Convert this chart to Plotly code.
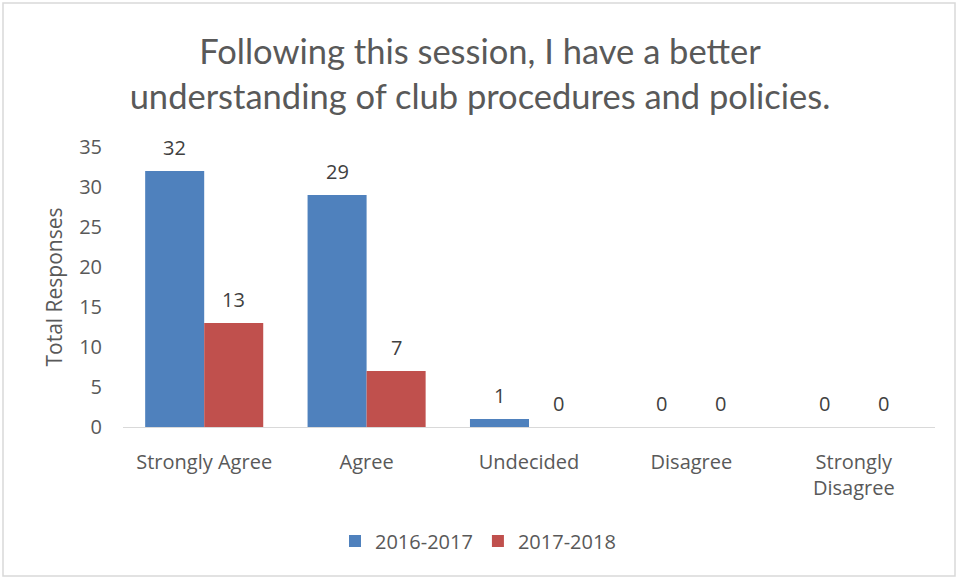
import plotly.graph_objects as go

categories = ["Strongly Agree", "Agree", "Undecided", "Disagree", "Strongly<br>Disagree"]
series_names = ["2016-2017", "2017-2018"]
values_2016 = [32, 29, 1, 0, 0]
values_2017 = [13, 7, 0, 0, 0]
y_ticks = [0, 5, 10, 15, 20, 25, 30, 35]

TFONT = "Lato"
FONT = "Open Sans"
GRAY = "#595959"
BARGAP = 0.273

fig = go.Figure()
series = [(series_names[0], values_2016, "#4F81BD"),
          (series_names[1], values_2017, "#C0504D")]
for name, vals, color in series:
    fig.add_trace(go.Bar(
        x=categories, y=vals, name=name, marker_color=color,
        marker_line_width=0,
    ))

# data labels above each bar
bw = (1 - BARGAP) / 2
annotations = []
for si, (name, vals, color) in enumerate(series):
    off = (si - 0.5) * bw
    for i, v in enumerate(vals):
        annotations.append(dict(
            x=i + off, y=v, xref="x", yref="y", text=str(v), showarrow=False,
            yshift=24, yanchor="middle", xanchor="center",
            font=dict(family=FONT, size=20, color="#404040"),
        ))

W, H = 960, 579
L, R, T, B = 123, 25, 147, 152
pw, ph = W - L - R, H - T - B

def px_x(x):
    return (x - L) / pw

def px_y(y):
    return (H - B - y) / ph

fig.update_layout(
    width=W, height=H,
    margin=dict(l=L, r=R, t=T, b=B),
    paper_bgcolor="white", plot_bgcolor="white",
    barmode="group", bargap=BARGAP, bargroupgap=0,
    title=dict(
        text="Following this session, I have a better<br>understanding of club procedures and policies.",
        x=0.5, xanchor="center", y=1 - 64 / H, yanchor="middle",
        font=dict(family=TFONT, size=34.5, color=GRAY),
    ),
    font=dict(family=FONT, color=GRAY),
    showlegend=True,
    legend=dict(
        orientation="h", x=px_x(478), xanchor="center",
        y=px_y(541), yanchor="middle",
        font=dict(family=FONT, size=20, color=GRAY),
        traceorder="normal",
    ),
    xaxis=dict(
        showgrid=False, showline=True, linecolor="#D9D9D9", linewidth=1,
        ticks="", tickfont=dict(family=FONT, size=20, color=GRAY),
        ticklabelstandoff=17,
    ),
    yaxis=dict(
        range=[0, 35], tickvals=y_ticks, showgrid=False, zeroline=False,
        showline=False, ticks="",
        tickfont=dict(family=FONT, size=20, color=GRAY),
        ticklabelstandoff=20,
        title=dict(text="Total Responses", font=dict(family=FONT, size=21, color=GRAY),
                   standoff=10),
    ),
    annotations=annotations,
    shapes=[dict(
        type="rect", xref="paper", yref="paper",
        x0=px_x(3), x1=px_x(955), y0=px_y(576), y1=px_y(3),
        line=dict(color="#D9D9D9", width=1.5), fillcolor="rgba(0,0,0,0)",
        layer="below",
    )],
)

fig.write_html("out.html", config={"displayModeBar": False},
               post_script="document.body.style.margin='0px';")
